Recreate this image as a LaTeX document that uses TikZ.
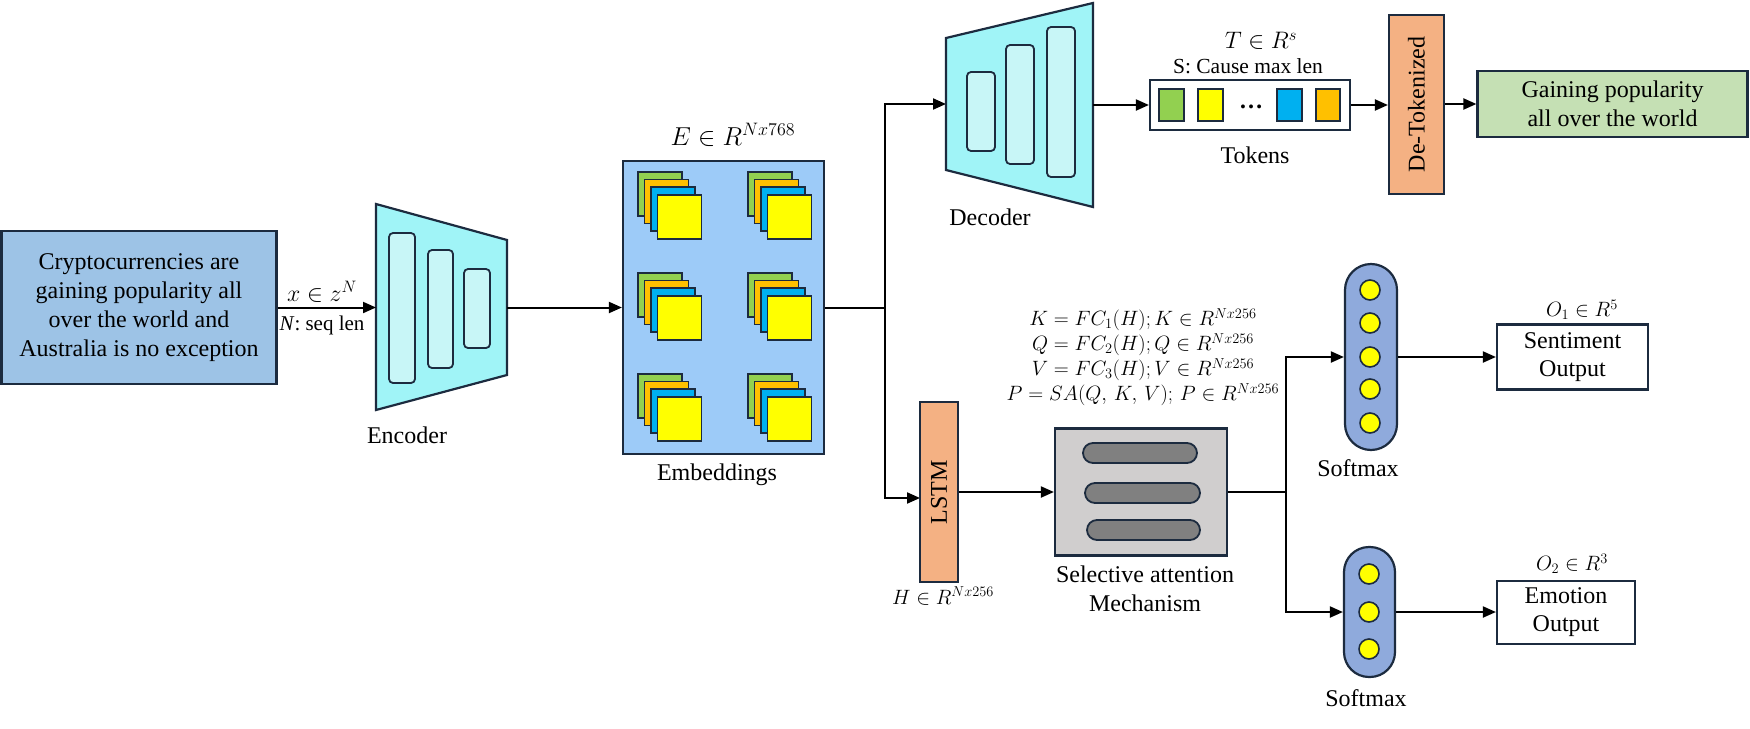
\documentclass[tikz,border=0pt]{standalone}
\usepackage{fontspec}
\setmainfont{LiberationSerif}[Extension=.ttf, UprightFont=*-Regular, BoldFont=*-Bold, ItalicFont=*-Italic, BoldItalicFont=*-BoldItalic]
\usetikzlibrary{arrows.meta,calc}

\definecolor{edge}{HTML}{1C2B3F}
\definecolor{inpfill}{HTML}{9DC3E6}
\definecolor{cyanfill}{HTML}{A0F4F7}
\definecolor{cyanin}{HTML}{C8F6F7}
\definecolor{embfill}{HTML}{9DCBF8}
\definecolor{cgreen}{HTML}{92D050}
\definecolor{corange}{HTML}{FFC000}
\definecolor{cblue}{HTML}{00B0F0}
\definecolor{cyellow}{HTML}{FFFF00}
\definecolor{peach}{HTML}{F4B183}
\definecolor{selfill}{HTML}{D0CECE}
\definecolor{pillfill}{HTML}{808080}
\definecolor{softfill}{HTML}{8FAADC}
\definecolor{outgreen}{HTML}{C5E0B4}

\tikzset{
  box/.style={draw=edge, line width=2.2pt, inner sep=0pt, align=center},
  inner/.style={draw=edge, line width=1.8pt, rounded corners=4pt, fill=cyanin},
  tile/.style={draw=edge, line width=1.5pt},
  wire/.style={line width=2pt},
  conn/.style={line width=2pt, -{Triangle[length=13pt,width=11pt]}},
  lbl/.style={font=\rmfamily\fontsize{24}{29}\selectfont, align=center, inner sep=0pt},
  mlbl/.style={font=\rmfamily\fontsize{21}{25}\selectfont, align=center, inner sep=0pt},
  dot/.style={circle, draw=edge, line width=1.6pt, fill=cyellow, minimum size=20pt, inner sep=0pt},
}

\begin{document}
\begin{tikzpicture}[x=1pt,y=-1pt]
\useasboundingbox (0,0) rectangle (1750,728);

% input sentence
\node[box, fill=inpfill, minimum width=275pt, minimum height=153pt, lbl] (inp) at (139,307.5)
  {Cryptocurrencies are\\gaining popularity all\\over the world and\\Australia is no exception};

% encoder
\draw[draw=edge, line width=2.2pt, fill=cyanfill] (376,204) -- (507,240) -- (507,375) -- (376,410) -- cycle;
\draw[inner] (389,233) rectangle (415,383);
\draw[inner] (428,250) rectangle (453,368);
\draw[inner] (464,269) rectangle (490,348);
\coordinate (encin) at (376,307.5);
\coordinate (encout) at (507,307.5);
\node[lbl] (enclbl) at (407,435) {Encoder};

\draw[conn] (inp.east) -- (encin);
\node[mlbl] (xlbl) at (322,292) {\scalebox{1.15}{$x \in z^{N}$}};
\node[mlbl] (nlbl) at (322,325) {\textit{N}: seq len};

% embeddings
\node[box, fill=embfill, minimum width=201pt, minimum height=293pt] (emb) at (723.5,307.5) {};
\foreach \gx in {638,748}{
  \foreach \gy in {172,273,374}{
    \draw[tile, fill=cgreen]  (\gx,\gy) rectangle ++(44,44);
    \draw[tile, fill=corange] (\gx+6.5,\gy+7.5) rectangle ++(44,44);
    \draw[tile, fill=cblue]   (\gx+13,\gy+15) rectangle ++(44,44);
    \draw[tile, fill=cyellow] (\gx+19.5,\gy+23) rectangle ++(44,44);
  }
}
\node[mlbl] (elbl) at (733,135) {\scalebox{1.25}{$E \in R^{Nx768}$}};
\node[lbl] (emblbl) at (717,475) {Embeddings};
\draw[conn] (encout) -- (emb.west);

% branch towards decoder and LSTM
\coordinate (busA) at (885,307.5);
\coordinate (decin) at (946,104);
\coordinate (lstmin) at (920,498);
\draw[wire] (emb.east) -- (busA);
\draw[conn] (busA) |- (decin);
\draw[conn] (busA) |- (lstmin);

% decoder
\draw[draw=edge, line width=2.2pt, fill=cyanfill] (946,38) -- (1093,3) -- (1093,207) -- (946,170) -- cycle;
\draw[inner] (967,72) rectangle (995,151);
\draw[inner] (1006,45) rectangle (1034,164);
\draw[inner] (1047,27) rectangle (1075,177);
\coordinate (decout) at (1093,105);
\node[lbl] (declbl) at (990,217) {Decoder};

% tokens
\node[box, fill=white, minimum width=200pt, minimum height=50pt] (tok) at (1250,105) {};
\draw[tile, fill=cgreen]  (1159,89) rectangle (1184,121);
\draw[tile, fill=cyellow] (1198,89) rectangle (1223,121);
\draw[tile, fill=cblue]   (1277,89) rectangle (1302,121);
\draw[tile, fill=corange] (1316,89) rectangle (1340,121);
\node[lbl] (tokdots) at (1251,107) {\textbf{…}};
\node[mlbl] (tlbl) at (1261,41) {\scalebox{1.15}{$T \in R^{s}$}};
\node[lbl, font=\rmfamily\fontsize{21.5}{25}\selectfont] (slbl) at (1248,66) {S: Cause max len};
\node[lbl] (toklbl) at (1255,155) {Tokens};
\draw[conn] (decout) -- (tok.west);

% de-tokenizer and generated text
\node[box, fill=peach, minimum width=55pt, minimum height=179pt] (detok) at (1416.5,104.5) {};
\node[lbl, rotate=90] (detoklbl) at (detok.center) {De-Tokenized};
\node[box, fill=outgreen, minimum width=270pt, minimum height=66pt, lbl] (gen) at (1612.5,104)
  {Gaining popularity\\all over the world};
\draw[conn] (tok.east) -- (detok.west |- tok.east);
\draw[conn] (detok.east |- gen.west) -- (gen.west);

% LSTM
\node[box, fill=peach, minimum width=38pt, minimum height=180pt] (lstm) at (939,492) {};
\node[lbl, rotate=90] (lstmlbl) at (lstm.center) {LSTM};
\node[mlbl, font=\rmfamily\fontsize{20}{24}\selectfont] (hlbl) at (943,596) {$H \in R^{Nx256}$};

% selective attention
\node[box, fill=selfill, minimum width=172pt, minimum height=127pt] (sel) at (1141,492) {};
\draw[draw=edge, line width=1.8pt, fill=pillfill, rounded corners=10pt] (1083,443) rectangle (1197,463);
\draw[draw=edge, line width=1.8pt, fill=pillfill, rounded corners=10pt] (1085,483) rectangle (1200,503);
\draw[draw=edge, line width=1.8pt, fill=pillfill, rounded corners=10pt] (1087,520) rectangle (1200,540);
\node[lbl] (sellbl) at (1145,589) {Selective attention\\Mechanism};
\node[mlbl, font=\rmfamily\fontsize{20}{25}\selectfont] (eqs) at (1143,357)
  {$K = FC_1(H); K \in R^{Nx256}$\\
   $Q = FC_2(H); Q \in R^{Nx256}$\\
   $V = FC_3(H); V \in R^{Nx256}$\\
   $P = SA(Q,\,K,\,V);\, P \in R^{Nx256}$};
\draw[conn] (lstm.east) -- (sel.west);

% heads
\coordinate (busB) at (1286,492);
\node[box, fill=softfill, minimum width=52pt, minimum height=186pt, rounded corners=26pt] (soft1) at (1371,357) {};
\foreach \yy in {290,323,357,389,423} \node[dot] at (1370,\yy) {};
\node[box, fill=softfill, minimum width=51pt, minimum height=130pt, rounded corners=25pt] (soft2) at (1369.5,612) {};
\foreach \yy in {574,612,649} \node[dot] at (1369,\yy) {};
\node[lbl] (smlbl1) at (1358,468) {Softmax};
\node[lbl] (smlbl2) at (1366,698) {Softmax};
\draw[wire] (sel.east) -- (busB);
\draw[conn] (busB) |- (soft1.west);
\draw[conn] (busB) |- (soft2.west);

% outputs
\node[box, fill=white, minimum width=151pt, minimum height=65pt, lbl, font=\rmfamily\fontsize{24}{28}\selectfont] (sent) at (1572.5,357) {Sentiment\\Output};
\node[box, fill=white, minimum width=138pt, minimum height=63pt, lbl, font=\rmfamily\fontsize{24}{28}\selectfont] (emo) at (1566,612.5) {Emotion\\Output};
\node[mlbl, font=\rmfamily\fontsize{20}{24}\selectfont] (o1lbl) at (1582,310) {$O_1 \in R^{5}$};
\node[mlbl, font=\rmfamily\fontsize{20}{24}\selectfont] (o2lbl) at (1572,564) {$O_2 \in R^{3}$};
\draw[conn] (soft1.east) -- (sent.west);
\draw[conn] (soft2.east) -- (emo.west |- soft2.east);
\end{tikzpicture}
\end{document}
